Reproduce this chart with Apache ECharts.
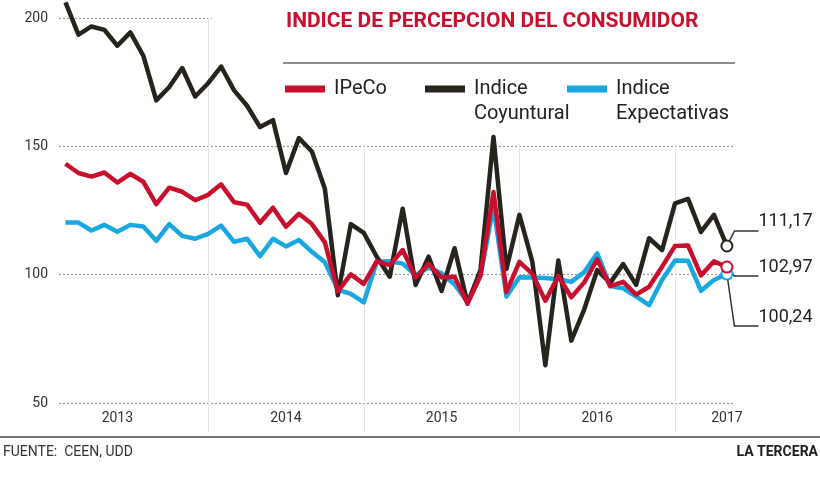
<!DOCTYPE html>
<html><head><meta charset="utf-8">
<script src="https://cdn.jsdelivr.net/npm/echarts@6/dist/echarts.min.js"></script>
<style>html,body{margin:0;padding:0;background:#fff}#c{width:820px;height:488px}</style>
</head><body><div id="c"></div>
<script>
// Monthly categories, Feb 2013 – May 2017
const months = [
  '2013-02','2013-03','2013-04','2013-05','2013-06','2013-07','2013-08','2013-09','2013-10','2013-11','2013-12',
  '2014-01','2014-02','2014-03','2014-04','2014-05','2014-06','2014-07','2014-08','2014-09','2014-10','2014-11','2014-12',
  '2015-01','2015-02','2015-03','2015-04','2015-05','2015-06','2015-07','2015-08','2015-09','2015-10','2015-11','2015-12',
  '2016-01','2016-02','2016-03','2016-04','2016-05','2016-06','2016-07','2016-08','2016-09','2016-10','2016-11','2016-12',
  '2017-01','2017-02','2017-03','2017-04','2017-05'
];
const yearLabelAt = ['2013-06','2014-07','2015-07','2016-07','2017-05'];
const dividerAt = ['2014-01','2015-01','2016-01','2017-01'];

const ipeco = [143.2,139.6,138.2,139.8,135.9,139.3,136.2,127.5,133.9,132.3,129.0,131.1,
  135.2,128.2,127.3,120.2,126.1,118.7,123.7,119.7,112.6,93.5,100.1,96.4,
  105.2,103.7,109.6,98.9,104.2,98.9,99.2,88.7,99.7,132.2,93.3,105.0,
  100.3,89.8,99.5,91.2,97.0,106.0,95.5,97.2,92.2,95.3,103.1,111.2,
  111.4,99.7,105.2,102.97];
const coyuntural = [206.1,193.5,196.7,195.4,189.2,194.4,185.3,167.9,173.1,180.5,169.4,174.6,
  181.1,171.8,165.8,157.5,160.2,139.6,153.2,148.0,133.5,92.0,119.7,116.3,
  107.0,99.2,125.7,96.0,107.0,93.7,110.3,88.8,101.8,153.6,102.2,123.3,
  105.0,64.7,105.5,74.3,86.5,101.8,96.8,104.1,96.0,114.2,109.6,127.8,
  129.5,116.7,123.3,111.17];
const expectativas = [120.3,120.3,117.2,119.4,116.7,119.4,118.8,113.2,119.7,115.1,114.0,115.9,
  119.1,112.8,114.0,107.2,114.0,111.0,113.5,108.9,104.8,94.2,92.5,89.2,
  105.0,105.2,104.3,99.8,102.8,100.5,96.2,89.4,99.5,126.5,91.5,99.0,
  98.9,98.7,98.2,97.2,101.0,108.3,95.6,94.7,91.5,88.1,97.9,105.5,
  105.4,93.7,97.9,100.24];

const yMin = 50, yMax = 200, yStep = 50;

const FONT = 'Roboto';
const RED = '#c8102e', BLACK = '#27231d', BLUE = '#19a7e2';

function mkSeries(name, data, color, labelDy) {
  const last = data.length - 1;
  return {
    name, type: 'line', data, clip: false, animation: false,
    showSymbol: true, showAllSymbol: true,
    symbol: (v, p) => p.dataIndex === last ? 'emptyCircle' : 'none',
    symbolSize: 11,
    lineStyle: { width: 4.5, color, join: 'round' },
    itemStyle: { color, borderColor: color, borderWidth: 3 },
    label: {
      show: true, position: 'right', distance: 5, offset: [14, labelDy],
      formatter: p => p.value.toFixed(2).replace('.', ','),
      fontFamily: FONT, fontSize: 18, color: '#222', padding: [0, 0, 0, 6]
    },
    labelLine: { show: true, length2: 24, lineStyle: { color: '#333', width: 1.5 } },
    emphasis: { disabled: true }
  };
}

const legendBase = {
  padding: 0, icon: 'rect', itemWidth: 38, itemHeight: 5, selectedMode: false,
  textStyle: { fontFamily: FONT, fontSize: 20, color: '#222', lineHeight: 25, padding: [0, 0, 0, 5] }
};
const legend2 = {
  padding: 0, icon: 'rect', itemWidth: 38, itemHeight: 5, selectedMode: false,
  formatter: n => ' \n' + n.replace(' ', '\n'),
  textStyle: { fontFamily: FONT, fontSize: 20, color: '#222', lineHeight: 25, padding: [0, 0, 0, 5] }
};

const chart = echarts.init(document.getElementById('c'));
chart.setOption({
  animation: false,
  textStyle: { fontFamily: FONT },
  title: [
    { text: 'INDICE DE PERCEPCION DEL CONSUMIDOR', left: 286, top: 11, padding: 0,
      textStyle: { fontFamily: FONT, fontWeight: 'bold', fontSize: 21, color: RED } },
    { text: 'FUENTE:  CEEN, UDD', left: 3, top: 445, padding: 0,
      textStyle: { fontFamily: FONT, fontWeight: 'normal', fontSize: 14, color: '#333' } },
    { text: 'LA TERCERA', right: 2, top: 445, padding: 0,
      textStyle: { fontFamily: FONT, fontWeight: 'bold', fontSize: 14, color: '#222' } }
  ],
  legend: [
    Object.assign({ data: ['IPeCo'], left: 285, top: 76.5 }, legendBase),
    Object.assign({ data: ['Indice Coyuntural'], left: 425, top: 51.5 }, legend2),
    Object.assign({ data: ['Indice Expectativas'], left: 567, top: 51.5 }, legend2)
  ],
  graphic: [
    { type: 'rect', silent: true, z: 1, shape: { x: 212, y: 0, width: 560, height: 143 }, style: { fill: '#fff' } },
    { type: 'line', silent: true, z: 3, shape: { x1: 283, y1: 63, x2: 735, y2: 63 }, style: { stroke: '#666', lineWidth: 1.5 } },
    { type: 'line', silent: true, z: 3, shape: { x1: 0, y1: 437, x2: 820, y2: 437 }, style: { stroke: '#777', lineWidth: 2 } }
  ],
  grid: { left: 59, right: 86.6, top: 18, bottom: 85, containLabel: false, outerBoundsMode: 'none' },
  xAxis: {
    type: 'category', data: months, boundaryGap: true,
    axisLine: { show: false },
    axisTick: { show: true, alignWithLabel: true, length: 29,
      interval: (i) => dividerAt.includes(months[i]),
      lineStyle: { color: '#e4e4e4', width: 1 } },
    splitLine: { show: true, alignWithLabel: true,
      interval: (i) => dividerAt.includes(months[i]),
      lineStyle: { color: '#e4e4e4', width: 1 } },
    axisLabel: { interval: (i) => yearLabelAt.includes(months[i]),
      formatter: v => v.slice(0, 4), margin: 8, fontSize: 14, color: '#333', fontFamily: FONT }
  },
  yAxis: {
    type: 'value', min: yMin, max: yMax, interval: yStep,
    axisLine: { show: false }, axisTick: { show: false },
    axisLabel: { margin: 11, fontSize: 14, color: '#333', fontFamily: FONT },
    splitLine: { lineStyle: { type: [2, 2], color: '#9a9a9a', width: 1.2 } }
  },
  series: [
    mkSeries('Indice Expectativas', expectativas, BLUE, 43),
    mkSeries('Indice Coyuntural', coyuntural, BLACK, -24),
    mkSeries('IPeCo', ipeco, RED, 0)
  ]
});
</script></body></html>
